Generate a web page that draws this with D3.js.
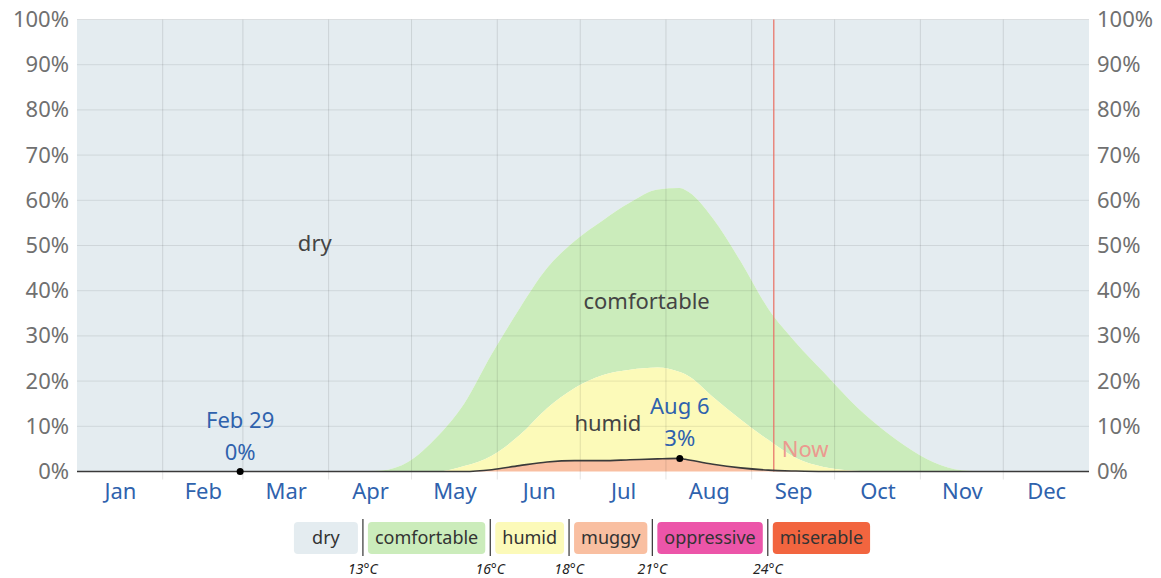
<!DOCTYPE html>
<html>
<head>
<meta charset="utf-8">
<script src="https://cdn.jsdelivr.net/npm/d3@7"></script>
<style>
	body { margin: 0; background: #fff; }
	svg text { font-family: "Noto Sans", sans-serif; }
</style>
</head>
<body>
<svg id="chart" width="1161" height="578"></svg>
<script>
	var sampleDays = [0, 100, 110, 120, 130, 140, 150, 160, 170, 180, 190, 200, 210, 218, 220, 230, 240, 250, 260, 270, 280, 290, 300, 310, 320, 330, 366];
	// Cumulative percentages (top of each band, from the bottom up)
	var comfortableTop = [0, 0, 0.2, 2.2, 7.5, 15, 26, 36, 45, 51, 55.5, 59.5, 62.4, 62.7, 62.3, 56, 46.5, 36, 28.5, 22, 15.5, 10, 5.5, 2, 0.3, 0, 0];
	var humidTop = [0, 0, 0, 0, 0, 1.2, 3.5, 8, 14, 18.5, 21.3, 22.5, 23, 22, 21.5, 16.5, 11.5, 7, 3, 1, 0.2, 0, 0, 0, 0, 0, 0];
	var muggyTop = [0, 0, 0, 0, 0, 0, 0.4, 1.3, 2.1, 2.4, 2.4, 2.6, 2.8, 2.9, 2.7, 1.6, 0.8, 0.3, 0.1, 0, 0, 0, 0, 0, 0, 0, 0];

	var monthNames = ["Jan", "Feb", "Mar", "Apr", "May", "Jun", "Jul", "Aug", "Sep", "Oct", "Nov", "Dec"];
	var yTicks = [0, 10, 20, 30, 40, 50, 60, 70, 80, 90, 100];

	// Marked days and "now"
	var markDays = [59, 218];
	var markLabels = ["Feb 29", "Aug 6"];
	var nowDay = 252;

	// Legend
	var legendNames = ["dry", "comfortable", "humid", "muggy", "oppressive", "miserable"];
	var legendTemps = ["13°C", "16°C", "18°C", "21°C", "24°C"];

	var colors = {
		dry: "#e4ecf0",
		comfortable: "#cbecbb",
		humid: "#fcfab9",
		muggy: "#f9bfa1",
		oppressive: "#ec55a9",
		miserable: "#f2653f"
	};

	var svg = d3.select("#chart");
	var year0 = new Date(2024, 0, 1);

	var x = d3.scaleLinear().domain([0, 366]).range([77, 1089]);
	var y = d3.scaleLinear().domain([0, 100]).range([471.5, 19.5]);

	var rows = sampleDays.map(function(d, i) {
		return { day: d, comf: comfortableTop[i], humid: humidTop[i], muggy: muggyTop[i] };
	});

	/**
	 * Bandas apiladas
	 */
	function band(lo, hi) {
		return d3.area()
			.curve(d3.curveMonotoneX)
			.x(function(d) { return x(d.day); })
			.y0(function(d) { return y(lo(d)); })
			.y1(function(d) { return y(hi(d)); });
	}

	svg.append("path").datum(rows).attr("fill", colors.dry)
		.attr("d", band(function(d) { return d.comf; }, function() { return 100; }));
	svg.append("path").datum(rows).attr("fill", colors.comfortable)
		.attr("d", band(function(d) { return d.humid; }, function(d) { return d.comf; }));
	svg.append("path").datum(rows).attr("fill", colors.humid)
		.attr("d", band(function(d) { return d.muggy; }, function(d) { return d.humid; }));
	svg.append("path").datum(rows).attr("fill", colors.muggy)
		.attr("d", band(function() { return 0; }, function(d) { return d.muggy; }));

	// Gridlines
	var monthStarts = d3.timeMonth.range(year0, new Date(2025, 0, 1)).map(function(m) {
		return d3.timeDay.count(year0, m);
	});
	var monthEnds = monthStarts.slice(1).concat([366]);
	var monthMids = monthStarts.map(function(s, i) { return (s + monthEnds[i]) / 2; });

	svg.append("g").selectAll("line").data(monthStarts.slice(1)).enter().append("line")
		.attr("x1", function(d) { return x(d); }).attr("x2", function(d) { return x(d); })
		.attr("y1", y(100)).attr("y2", y(0) + 8)
		.attr("stroke", "#000").attr("stroke-opacity", 0.11);
	svg.append("g").selectAll("line").data(yTicks.slice(1)).enter().append("line")
		.attr("x1", x(0)).attr("x2", x(366))
		.attr("y1", function(d) { return y(d); }).attr("y2", function(d) { return y(d); })
		.attr("stroke", "#000").attr("stroke-opacity", 0.09);

	// Now line
	svg.append("line")
		.attr("x1", x(nowDay)).attr("x2", x(nowDay))
		.attr("y1", y(100)).attr("y2", y(0))
		.attr("stroke", "#e8776c").attr("stroke-width", 1.3);
	svg.append("text").attr("x", x(nowDay) + 8).attr("y", y(0) - 15)
		.attr("font-size", 22).attr("fill", "#eb9a8f").text("Now");

	// Muggy-or-worse line
	svg.append("path").datum(rows)
		.attr("fill", "none").attr("stroke", "#3a3a3a").attr("stroke-width", 1.6)
		.attr("d", d3.line().curve(d3.curveMonotoneX)
			.x(function(d) { return x(d.day); })
			.y(function(d) { return y(d.muggy); }));

	// Region labels
	var regionLabels = [
		{ text: "dry", day: 86, pct: 50.5 },
		{ text: "comfortable", day: 206, pct: 37.7 },
		{ text: "humid", day: 192, pct: 10.6 }
	];
	svg.append("g").selectAll("text").data(regionLabels).enter().append("text")
		.attr("x", function(d) { return x(d.day); })
		.attr("y", function(d) { return y(d.pct); })
		.attr("dy", "0.35em").attr("text-anchor", "middle")
		.attr("font-size", 22).attr("fill", "#444")
		.text(function(d) { return d.text; });

	// Marked points
	function muggyAt(day) {
		var i = d3.bisectLeft(sampleDays, day);
		if (sampleDays[i] === day) return muggyTop[i];
		var t = (day - sampleDays[i - 1]) / (sampleDays[i] - sampleDays[i - 1]);
		return muggyTop[i - 1] + t * (muggyTop[i] - muggyTop[i - 1]);
	}

	var marks = svg.append("g").selectAll("g").data(markDays).enter().append("g")
		.attr("transform", function(d) { return "translate(" + x(d) + "," + y(muggyAt(d)) + ")"; });
	marks.append("circle").attr("r", 3.5).attr("fill", "#000");
	marks.append("text").attr("y", -44).attr("text-anchor", "middle")
		.attr("font-size", 22).attr("fill", "#2f62ad")
		.text(function(d, i) { return markLabels[i]; });
	marks.append("text").attr("y", -12).attr("text-anchor", "middle")
		.attr("font-size", 22).attr("fill", "#2f62ad")
		.text(function(d) { return Math.round(muggyAt(d)) + "%"; });

	// Axes
	var fmtPct = function(d) { return d + "%"; };
	var left = svg.append("g").attr("transform", "translate(" + x(0) + ",0)")
		.call(d3.axisLeft(y).tickValues(yTicks).tickFormat(fmtPct).tickSize(0).tickPadding(8));
	var right = svg.append("g").attr("transform", "translate(" + x(366) + ",0)")
		.call(d3.axisRight(y).tickValues(yTicks).tickFormat(fmtPct).tickSize(0).tickPadding(8));
	var bottom = svg.append("g").attr("transform", "translate(0," + y(0) + ")")
		.call(d3.axisBottom(x).tickValues(monthMids)
			.tickFormat(function(d, i) { return monthNames[i]; }).tickSize(0).tickPadding(12));

	[left, right, bottom].forEach(function(g) {
		g.select(".domain").remove();
		g.selectAll("text").attr("font-size", 22).attr("font-family", "Noto Sans");
	});
	left.selectAll("text").attr("fill", "#707070");
	right.selectAll("text").attr("fill", "#707070");
	bottom.selectAll("text").attr("fill", "#2f62ad");

	/**
	 * Leyenda
	 */
	function drawLegend() {
		var lg = svg.append("g");
		var pos = 0, seps = [];
		legendNames.forEach(function(name, i) {
			var item = lg.append("g");
			var rect = item.append("rect").attr("rx", 4).attr("ry", 4)
				.attr("y", 522).attr("height", 32).attr("fill", colors[name]);
			var txt = item.append("text").attr("y", 538).attr("dy", "0.35em")
				.attr("text-anchor", "middle").attr("font-size", 18)
				.attr("fill", "#333").text(name);
			var w = Math.max(64, txt.node().getComputedTextLength() + 14);
			rect.attr("x", pos).attr("width", w);
			txt.attr("x", pos + w / 2);
			pos += w;
			if (i < legendNames.length - 1) {
				seps.push(pos + 5);
				pos += 10;
			}
		});
		var offset = 582 - pos / 2;
		lg.attr("transform", "translate(" + offset + ",0)");

		lg.selectAll("line.sep").data(seps).enter().append("line")
			.attr("x1", function(d) { return d; }).attr("x2", function(d) { return d; })
			.attr("y1", 519).attr("y2", 556)
			.attr("stroke", "#333").attr("stroke-width", 1.2);
		lg.selectAll("text.temp").data(seps).enter().append("text")
			.attr("x", function(d) { return d; }).attr("y", 574)
			.attr("text-anchor", "middle").attr("font-size", 14)
			.attr("font-style", "italic").attr("fill", "#222")
			.text(function(d, i) { return legendTemps[i]; });
	}

	drawLegend();
</script>
</body>
</html>
